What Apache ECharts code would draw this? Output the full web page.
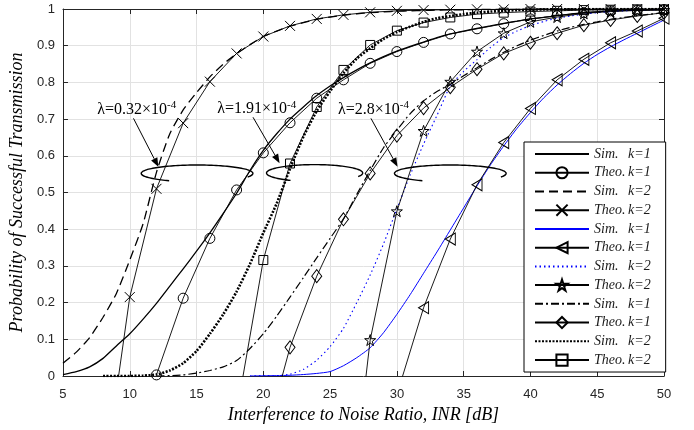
<!DOCTYPE html>
<html>
<head>
<meta charset="utf-8">
<script src="https://cdn.jsdelivr.net/npm/echarts@6/dist/echarts.min.js"></script>
<style>
html,body{margin:0;padding:0;background:#fff;}
#chart{width:694px;height:430px;}
</style>
</head>
<body>
<div id="chart"></div>
<script>
// INR grid (dB) for simulated curves, 1 dB step
const inrSim = [5,6,7,8,9,10,11,12,13,14,15,16,17,18,19,20,21,22,23,24,25,26,27,28,29,30,
  31,32,33,34,35,36,37,38,39,40,41,42,43,44,45,46,47,48,49,50];
// INR grid for theoretical curves (markers), 2 dB step
const inrTheo = [8,10,12,14,16,18,20,22,24,26,28,30,32,34,36,38,40,42,44,46,48,50];

// lambda = 0.32e-4
const simK1a = [0.004,0.012,0.025,0.048,0.082,0.115,0.155,0.198,0.245,0.292,0.34,0.39,0.443,0.498,0.56,0.615,
  0.66,0.7,0.733,0.764,0.79,0.813,0.834,0.853,0.87,0.885,0.898,0.91,0.922,0.932,0.94,0.947,0.954,0.961,0.967,
  0.973,0.977,0.982,0.986,0.99,0.992,0.995,0.996,0.997,0.998,0.998];
const theoK1a = [null,null,0.003,0.212,0.375,0.507,0.608,0.69,0.757,0.807,0.852,0.884,0.909,0.932,0.946,0.96,
  0.973,0.982,0.99,0.995,0.997,0.998];
const simK2a = [0.035,0.065,0.105,0.16,0.225,0.316,0.415,0.555,0.66,0.725,0.772,0.815,0.85,0.878,0.903,0.925,
  0.94,0.953,0.963,0.972,0.978,0.983,0.987,0.99,0.992,0.994,0.995,0.996,0.997,0.998,0.998,0.999,0.999,0.999,
  0.999,1,1,1,1,1,1,1,1,1,1,1];
const theoK2a = [-0.3,0.215,0.51,0.689,0.802,0.879,0.925,0.954,0.973,0.984,0.991,0.995,0.997,0.998,0.999,0.999,
  1,1,1,1,1,1];

// lambda = 2.8e-4
const simK1b = [null,null,null,null,null,null,null,null,null,null,null,null,null,null,0,0.0005,0.001,0.002,
  0.004,0.007,0.012,0.028,0.05,0.077,0.118,0.168,0.222,0.28,0.338,0.398,0.458,0.518,0.575,0.627,0.675,0.718,
  0.758,0.793,0.824,0.852,0.876,0.897,0.916,0.934,0.952,0.97];
const theoK1b = [null,null,null,null,null,null,null,null,null,null,null,-0.051,0.186,0.373,0.521,0.636,0.729,
  0.807,0.863,0.908,0.94,0.975];
const simK2b = [null,null,null,null,null,null,null,null,null,null,null,null,null,null,0,0.0005,0.001,0.005,
  0.018,0.043,0.08,0.13,0.2,0.275,0.36,0.455,0.548,0.632,0.71,0.79,0.83,0.862,0.895,0.922,0.94,0.955,0.966,
  0.975,0.981,0.986,0.99,0.993,0.995,0.997,0.998,0.999];
const theoK2b = [null,null,null,null,null,null,null,null,null,-0.534,0.098,0.449,0.668,0.802,0.884,0.934,0.965,
  0.978,0.988,0.993,0.996,0.998];

// lambda = 1.91e-4
const simK1c = [null,null,null,null,null,null,null,0,0.001,0.003,0.008,0.015,0.025,0.042,0.075,0.115,0.163,
  0.215,0.268,0.322,0.375,0.428,0.495,0.56,0.622,0.67,0.715,0.75,0.775,0.795,0.818,0.84,0.862,0.882,0.9,0.915,
  0.928,0.94,0.95,0.958,0.965,0.972,0.977,0.982,0.986,0.99];
const theoK1c = [null,null,null,null,null,null,-0.19,0.078,0.272,0.427,0.552,0.655,0.73,0.787,0.836,0.879,0.908,
  0.934,0.956,0.97,0.981,0.99];
const simK2c = [null,null,null,0,0,0,0.001,0.004,0.015,0.035,0.068,0.115,0.168,0.23,0.305,0.39,0.47,0.565,0.652,
  0.722,0.776,0.825,0.865,0.893,0.918,0.937,0.952,0.965,0.975,0.981,0.986,0.99,0.993,0.995,0.997,0.998,0.999,
  0.999,0.999,1,1,1,1,1,1,1];
const theoK2c = [null,null,null,null,null,-0.1,0.316,0.579,0.733,0.834,0.902,0.941,0.963,0.977,0.986,0.99,0.993,
  0.995,0.997,0.998,0.999,0.999];

const legendText = [['Sim.','k=1'],['Theo.','k=1'],['Sim.','k=2'],['Theo.','k=2'],
  ['Sim.','k=1'],['Theo.','k=1'],['Sim.','k=2'],['Theo.','k=2'],
  ['Sim.','k=1'],['Theo.','k=1'],['Sim.','k=2'],['Theo.','k=2']];

const serif = '"Liberation Serif","Times New Roman",serif';
const sans = '"Liberation Sans",Arial,sans-serif';

function pairs(xs, ys) {
  return xs.map((x, i) => [x, ys[i]]).filter(p => p[1] != null);
}

function simSeries(id, ys, color, width, type) {
  return {
    name: id, type: 'line', data: pairs(inrSim, ys),
    symbol: 'none', smooth: 0.2, animation: false,
    lineStyle: {color: color, width: width, type: type, cap: 'butt'},
    // transparent so the legend shows only the line
    itemStyle: {color: 'rgba(0,0,0,0)', borderWidth: 0},
    emphasis: {disabled: true}
  };
}

function theoSeries(id, ys, symbol, size) {
  return {
    name: id, type: 'line', data: pairs(inrTheo, ys),
    symbol: symbol, symbolSize: size, showAllSymbol: true, animation: false,
    lineStyle: {color: '#000', width: 0.9},
    itemStyle: {color: 'rgba(0,0,0,0)', borderColor: '#000', borderWidth: 1},
    emphasis: {disabled: true}
  };
}

const starPath = 'path://M5,0L6.2,3.6L10,3.6L6.9,5.9L8.1,9.5L5,7.3L1.9,9.5L3.1,5.9L0,3.6L3.8,3.6Z';
const crossPath = 'path://M0,0L10,10M10,0L0,10';
const triLeftPath = 'path://M10,0L0,5L10,10Z';

const series = [
  simSeries('s1', simK1a, '#000', 1.3, 'solid'),
  theoSeries('s2', theoK1a, 'circle', 10),
  simSeries('s3', simK2a, '#000', 1.3, [9, 5]),
  theoSeries('s4', theoK2a, crossPath, 10),
  simSeries('s5', simK1b, '#0000ff', 1, 'solid'),
  theoSeries('s6', theoK1b, triLeftPath, [10, 12]),
  simSeries('s7', simK2b, '#0000ff', 1.1, [1.5, 3]),
  theoSeries('s8', theoK2b, starPath, 11),
  simSeries('s9', simK1c, '#000', 1.2, [8, 3, 2, 3]),
  theoSeries('s10', theoK1c, 'diamond', [10, 13]),
  simSeries('s11', simK2c, '#000', 2.6, [2, 1.5]),
  theoSeries('s12', theoK2c, 'rect', 9)
];

const chart = echarts.init(document.getElementById('chart'));
const axisColor = '#262626';

const option = {
  animation: false,
  backgroundColor: '#fff',
  grid: {left: 61, right: 30, top: 9, bottom: 54},
  xAxis: [{
    type: 'value', min: 5, max: 50, interval: 5,
    name: 'Interference to Noise Ratio, INR [dB]', nameLocation: 'middle', nameGap: 28,
    nameTextStyle: {fontFamily: serif, fontStyle: 'italic', fontSize: 18, color: '#000'},
    axisLine: {show: true, onZero: false, lineStyle: {color: axisColor, width: 1}},
    axisTick: {show: true, inside: true, length: 5, lineStyle: {color: axisColor}},
    axisLabel: {fontFamily: sans, fontSize: 13, color: axisColor, margin: 12},
    splitLine: {show: true, lineStyle: {color: '#e2e2e2', width: 1}}
  }, {
    type: 'value', min: 5, max: 50, interval: 5, position: 'top',
    axisLine: {show: true, onZero: false, lineStyle: {color: axisColor, width: 1}},
    axisTick: {show: true, inside: true, length: 5, lineStyle: {color: axisColor}},
    axisLabel: {show: false}, splitLine: {show: false}
  }],
  yAxis: [{
    type: 'value', min: 0, max: 1, interval: 0.1,
    name: 'Probability of Successful Transmission', nameLocation: 'middle', nameGap: 35, nameRotate: 90,
    nameTextStyle: {fontFamily: serif, fontStyle: 'italic', fontSize: 18, color: '#000'},
    axisLine: {show: true, onZero: false, lineStyle: {color: axisColor, width: 1}},
    axisTick: {show: true, inside: true, length: 5, lineStyle: {color: axisColor}},
    axisLabel: {fontFamily: sans, fontSize: 13, color: axisColor, margin: 8},
    splitLine: {show: true, lineStyle: {color: '#e2e2e2', width: 1}}
  }, {
    type: 'value', min: 0, max: 1, interval: 0.1, position: 'right',
    axisLine: {show: true, onZero: false, lineStyle: {color: axisColor, width: 1}},
    axisTick: {show: true, inside: true, length: 5, lineStyle: {color: axisColor}},
    axisLabel: {show: false}, splitLine: {show: false}
  }],
  legend: {
    orient: 'vertical', left: 524, top: 142,
    padding: [5, 15, 5, 10], itemGap: 4.73, itemWidth: 54, itemHeight: 14,
    backgroundColor: '#fff', borderColor: '#000', borderWidth: 1,
    selectedMode: false,
    data: series.map(s => s.name),
    formatter: function (name) {
      const t = legendText[parseInt(name.slice(1), 10) - 1];
      return '{a|' + t[0] + '}{b|' + t[1] + '}';
    },
    textStyle: {
      rich: {
        a: {fontFamily: serif, fontStyle: 'italic', fontSize: 14, color: '#1a1a1a', width: 34},
        b: {fontFamily: serif, fontStyle: 'italic', fontSize: 14, color: '#1a1a1a'}
      }
    }
  },
  series: series
};
chart.setOption(option);

// annotations, positioned in data coordinates
const labels = [
  {text: '0.32', pos: [10.52, 0.725]},
  {text: '1.91', pos: [19.51, 0.727]},
  {text: '2.8', pos: [28.25, 0.725]}
];
const arrows = [
  [[10.28, 0.702], [12.14, 0.570]],
  [[19.23, 0.705], [21.22, 0.580]],
  [[28.06, 0.702], [30.05, 0.570]]
];
const loops = [
  {c: [15.04, 0.552], rx: 4.18, ry: 0.023},
  {c: [23.84, 0.553], rx: 3.6, ry: 0.023},
  {c: [34.0, 0.552], rx: 4.18, ry: 0.023}
];

function toPx(p) {
  return chart.convertToPixel({xAxisIndex: 0, yAxisIndex: 0}, p);
}

const graphics = [];
labels.forEach(l => {
  const p = toPx(l.pos);
  graphics.push({
    type: 'text', x: p[0], y: p[1], z: 100,
    style: {
      text: '{t|\u03bb=' + l.text + '\u00d710}{s|-4}',
      align: 'center', verticalAlign: 'middle',
      rich: {
        t: {fontFamily: serif, fontSize: 16, fill: '#000', lineHeight: 20},
        s: {fontFamily: serif, fontSize: 11, fill: '#000', lineHeight: 12, verticalAlign: 'top'}
      }
    }
  });
});
arrows.forEach(a => {
  const p0 = toPx(a[0]), p1 = toPx(a[1]);
  const dx = p1[0] - p0[0], dy = p1[1] - p0[1];
  const len = Math.sqrt(dx * dx + dy * dy);
  const ux = dx / len, uy = dy / len;
  const bx = p1[0] - ux * 9, by = p1[1] - uy * 9;
  graphics.push({
    type: 'line', z: 100,
    shape: {x1: p0[0], y1: p0[1], x2: bx, y2: by},
    style: {stroke: '#000', lineWidth: 1}
  });
  graphics.push({
    type: 'polygon', z: 100,
    shape: {points: [[p1[0], p1[1]], [bx - uy * 3.5, by + ux * 3.5], [bx + uy * 3.5, by - ux * 3.5]]},
    style: {fill: '#000'}
  });
});
loops.forEach(e => {
  const c = toPx(e.c);
  const rx = toPx([e.c[0] + e.rx, e.c[1]])[0] - c[0];
  const ry = c[1] - toPx([e.c[0], e.c[1] + e.ry])[1];
  const pts = [];
  for (let a = 120; a <= 385; a += 5) {
    const r = a * Math.PI / 180;
    pts.push([c[0] + rx * Math.cos(r), c[1] + ry * Math.sin(r)]);
  }
  graphics.push({
    type: 'polyline', z: 100,
    shape: {points: pts, smooth: 0.3},
    style: {stroke: '#000', lineWidth: 1.4, fill: null}
  });
});
chart.setOption({graphic: graphics});
</script>
</body>
</html>
